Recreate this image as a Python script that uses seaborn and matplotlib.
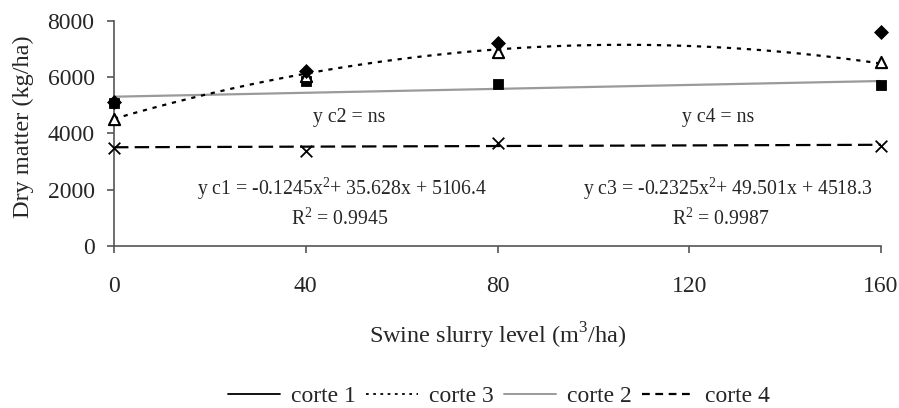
import numpy as np
import pandas as pd
import matplotlib
matplotlib.use("Agg")
import matplotlib.pyplot as plt
from matplotlib.lines import Line2D
import seaborn as sns

# ---- data ----
levels = [0, 40, 80, 160]
corte1 = [5100, 6230, 7230, 7600]
corte2 = [5090, 5880, 5760, 5720]
corte3 = [4500, 6050, 6910, 6530]
corte4 = [3470, 3380, 3670, 3560]

xticks = [0, 40, 80, 120, 160]
yticks = [0, 2000, 4000, 6000, 8000]

# trend-line coefficients (highest power first)
fit_c3 = [-0.2325, 49.501, 4518.3]
fit_c2 = [3.49, 5305.0]
fit_c4 = [0.55, 3505.0]

eq_c1 = "y c1 = -0.1245x$^{2}$+ 35.628x + 5106.4"
r2_c1 = "R$^{2}$ = 0.9945"
eq_c3 = "y c3 = -0.2325x$^{2}$+ 49.501x + 4518.3"
r2_c3 = "R$^{2}$ = 0.9987"
eq_c2 = "y c2 = ns"
eq_c4 = "y c4 = ns"

sns.set_style("ticks")
plt.rcParams["font.family"] = ["Liberation Serif", "DejaVu Serif"]
plt.rcParams["mathtext.fontset"] = "custom"
plt.rcParams["mathtext.rm"] = "Liberation Serif"

fig = plt.figure(figsize=(8.99, 4.08), dpi=100)
ax = fig.add_axes([0.1268, 0.3978, 0.8532, 0.5507])

xs = np.linspace(0, 160, 161)
trend = pd.DataFrame({
    "x": xs,
    "c3": np.polyval(fit_c3, xs),
    "c2": np.polyval(fit_c2, xs),
    "c4": np.polyval(fit_c4, xs),
})

sns.lineplot(data=trend, x="x", y="c2", ax=ax, color="#9a9a9a", lw=1.6)
sns.lineplot(data=trend, x="x", y="c3", ax=ax, color="black", lw=1.6)
ax.lines[-1].set_dashes([1.9, 2.6])
sns.lineplot(data=trend, x="x", y="c4", ax=ax, color="black", lw=1.6)
ax.lines[-1].set_dashes([6.5, 2.8])

pts = pd.DataFrame({"x": levels, "c1": corte1, "c2": corte2,
                    "c3": corte3, "c4": corte4})
sns.scatterplot(data=pts, x="x", y="c4", ax=ax, marker="x", s=70,
                color="black", linewidth=1.3, clip_on=False, zorder=5)
sns.scatterplot(data=pts, x="x", y="c2", ax=ax, marker="s", s=55,
                color="black", edgecolor="black", clip_on=False, zorder=5)
sns.scatterplot(data=pts, x="x", y="c3", ax=ax, marker="^", s=65,
                facecolor="white", edgecolor="black", linewidth=1.5,
                clip_on=False, zorder=6)
sns.scatterplot(data=pts, x="x", y="c1", ax=ax, marker="D", s=50,
                color="black", edgecolor="black", clip_on=False, zorder=7)

ax.set_xlim(0, 160)
ax.set_ylim(0, 8000)
ax.set_xticks(xticks)
ax.set_yticks(yticks)
ax.tick_params(axis="x", length=5, width=1.2, pad=17, labelsize=17,
               color="#555555")
ax.tick_params(axis="y", length=5, width=1.2, pad=9, labelsize=17,
               color="#555555")
for s in ["top", "right"]:
    ax.spines[s].set_visible(False)
for s in ["left", "bottom"]:
    ax.spines[s].set_color("#555555")
    ax.spines[s].set_linewidth(1.2)

ax.set_ylabel("Dry matter (kg/ha)", fontsize=17.5)
ax.yaxis.set_label_coords(-0.104, 0.53)
ax.set_xlabel("Swine slurry level (m$^{3}$/ha)", fontsize=17.5)
ax.xaxis.set_label_coords(0.5, -0.335)

fs = 14.2
ax.text(49, 4570, eq_c2, ha="center", va="center", fontsize=fs)
ax.text(126, 4570, eq_c4, ha="center", va="center", fontsize=fs)
ax.text(47.5, 2040, eq_c1, ha="center", va="center", fontsize=fs)
ax.text(47, 940, r2_c1, ha="center", va="center", fontsize=fs)
ax.text(128, 2040, eq_c3, ha="center", va="center", fontsize=fs)
ax.text(126.5, 940, r2_c3, ha="center", va="center", fontsize=fs)

handles = [
    Line2D([], [], color="black", lw=1.3),
    Line2D([], [], color="black", lw=1.3, dashes=[1.5, 2.5]),
    Line2D([], [], color="#9a9a9a", lw=1.4),
    Line2D([], [], color="black", lw=1.6, dashes=[3.5, 2.5]),
]
labels = ["corte 1", "corte 3", "corte 2", "corte 4"]
fig.legend(handles, labels, loc="center", bbox_to_anchor=(0.555, 0.028),
           ncol=4, frameon=False, fontsize=17, handlelength=2.2,
           handletextpad=0.45, columnspacing=0.45)

fig.savefig("out.png", dpi=100)
